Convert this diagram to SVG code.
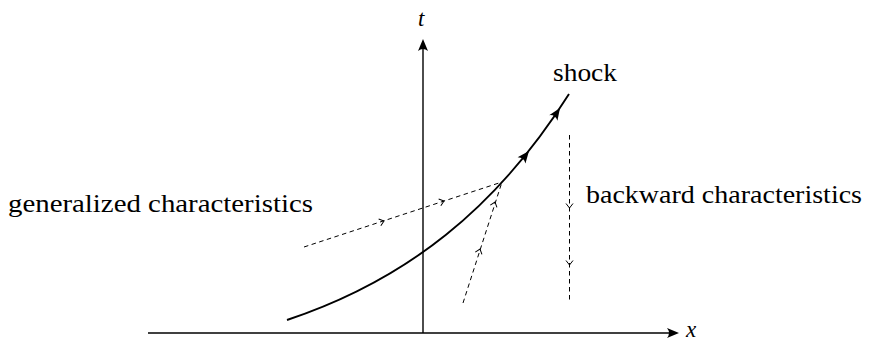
<svg xmlns="http://www.w3.org/2000/svg" width="871" height="342" viewBox="0 0 871 342">
<style>
text{font-family:'Liberation Serif','Times New Roman',serif;fill:#000}
.lbl{font-size:25px}
.math{font-style:italic;font-size:23px}
.axis{stroke:#000;stroke-width:1.4;fill:none}
.shock{stroke:#000;stroke-width:1.9;fill:none}
.dash{stroke:#000;stroke-width:1;fill:none;stroke-dasharray:4.5 3.5}
.open{stroke:#000;stroke-width:1;fill:none}
</style>
<defs>
<path id="latex" d="M0,0 L-12,-5 Q-8,0 -12,5 Z" fill="#000"/>
<path id="small" d="M-4.5,-3.5 L0,0 L-4.5,3.5" class="open"/>
</defs>
<rect width="871" height="342" fill="#fff"/>
<g id="axes">
<line class="axis" x1="148" y1="333" x2="673" y2="333"/>
<use href="#latex" transform="translate(679,333)"/>
<line class="axis" x1="423" y1="333" x2="423" y2="45"/>
<use href="#latex" transform="translate(423,39) rotate(-90)"/>
<text class="math" x="418" y="26">t</text>
<text class="math" x="686" y="337">x</text>
</g>
<g id="connectors">
<g id="shock">
<path class="shock" d="M287,320 C407,280 497,208 569,94"/>
<use href="#latex" transform="translate(529,151) rotate(-51.5)"/>
<use href="#latex" transform="translate(560,108) rotate(-56)"/>
</g>
<g id="generalized-lines">
<line class="dash" x1="304" y1="247" x2="502" y2="182"/>
<use href="#small" transform="translate(384,221) rotate(-18)"/>
<use href="#small" transform="translate(444,201) rotate(-18)"/>
<line class="dash" x1="463" y1="303" x2="502" y2="182"/>
<use href="#small" transform="translate(480,249) rotate(-72)"/>
<use href="#small" transform="translate(495,202) rotate(-72)"/>
</g>
<g id="backward-line">
<line class="dash" x1="569.5" y1="135" x2="569.5" y2="303"/>
<use href="#small" transform="translate(569.5,208) rotate(90)"/>
<use href="#small" transform="translate(569.5,265) rotate(90)"/>
</g>
</g>
<g id="label-shock"><text class="lbl" x="553" y="81" textLength="64" lengthAdjust="spacingAndGlyphs">shock</text></g>
<g id="label-generalized"><text class="lbl" x="8" y="212" textLength="305" lengthAdjust="spacingAndGlyphs">generalized characteristics</text></g>
<g id="label-backward"><text class="lbl" x="586" y="203" textLength="276" lengthAdjust="spacingAndGlyphs">backward characteristics</text></g>
</svg>
